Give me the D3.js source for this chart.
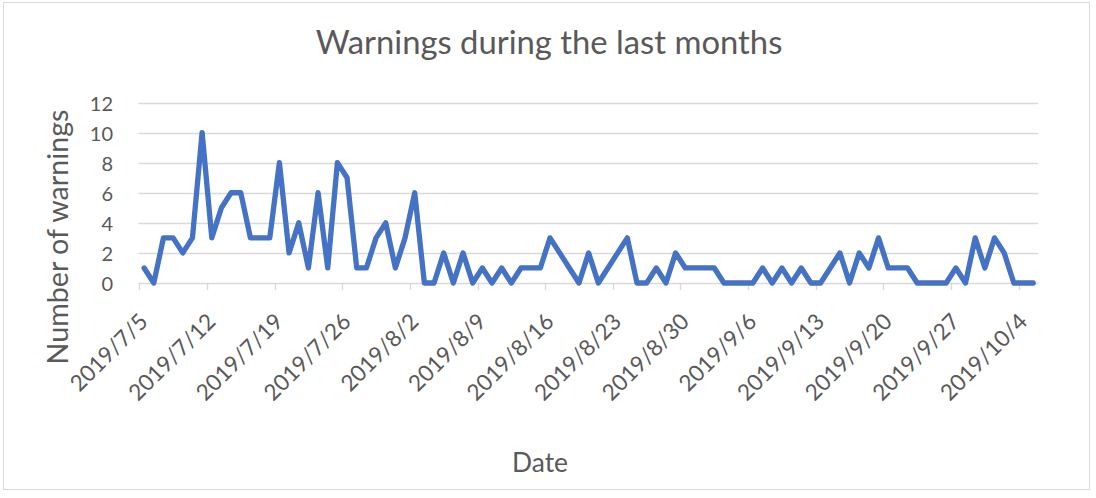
<!DOCTYPE html>
<html>
<head>
<meta charset="utf-8">
<script src="https://cdn.jsdelivr.net/npm/d3@7"></script>
<style>
  html, body { margin: 0; padding: 0; background: #fff; }
  svg { display: block; font-family: Lato, "Open Sans", sans-serif; }
</style>
</head>
<body>
<svg id="chart" width="1096" height="498"></svg>
<script>
// ---- data ----
const startDate = "2019-07-05";
const endDate = "2019-10-06"; // exclusive end of the date axis
const warnings = [
  1, 0, 3, 3, 2, 3, 10, 3, 5, 6, 6, 3, 3, 3, 8, 2, 4, 1, 6, 1,
  8, 7, 1, 1, 3, 4, 1, 3, 6, 0, 0, 2, 0, 2, 0, 1, 0, 1, 0, 1,
  1, 1, 3, 2, 1, 0, 2, 0, 1, 2, 3, 0, 0, 1, 0, 2, 1, 1, 1, 1,
  0, 0, 0, 0, 1, 0, 1, 0, 1, 0, 0, 1, 2, 0, 2, 1, 3, 1, 1, 1,
  0, 0, 0, 0, 1, 0, 3, 1, 3, 2, 0, 0, 0
];
const tickLabels = ["2019/7/5", "2019/7/12", "2019/7/19", "2019/7/26", "2019/8/2", "2019/8/9",
  "2019/8/16", "2019/8/23", "2019/8/30", "2019/9/6", "2019/9/13", "2019/9/20", "2019/9/27", "2019/10/4"];
const yTicks = [0, 2, 4, 6, 8, 10, 12];
const titleText = "Warnings during the last months";
const xTitle = "Date";
const yTitle = "Number of warnings";

// ---- setup ----
const parse = d3.timeParse("%Y-%m-%d");
const parseLabel = d3.timeParse("%Y/%m/%d");
const dates = d3.timeDay.range(parse(startDate), parse(endDate)).slice(0, warnings.length);
const data = dates.map((d, i) => ({ date: d, value: warnings[i] }));

const svg = d3.select("#chart");
const textColor = "#595959";
const gridColor = "#d9d9d9";

// chart border
svg.append("rect")
  .attr("x", 3.5).attr("y", 2.5).attr("width", 1086).attr("height", 487)
  .attr("fill", "#fff").attr("stroke", "#d9d9d9").attr("stroke-width", 1);

const x = d3.scaleTime()
  .domain([parse(startDate), parse(endDate)])
  .range([139.3, 1038]);
const y = d3.scaleLinear().domain([0, 12]).range([283, 102.5]);

// gridlines
svg.append("g").selectAll("line").data(yTicks).join("line")
  .attr("x1", 138.5).attr("x2", 1038)
  .attr("y1", d => Math.round(y(d)) + 0.5).attr("y2", d => Math.round(y(d)) + 0.5)
  .attr("stroke", gridColor).attr("stroke-width", 1.4);

// y tick labels
svg.append("g").selectAll("text").data(yTicks).join("text")
  .attr("x", 113).attr("y", d => y(d))
  .attr("text-anchor", "end").attr("dominant-baseline", "central")
  .attr("fill", textColor).attr("font-size", 20)
  .text(d => d);

// x axis ticks and labels
const tickDates = tickLabels.map(s => parseLabel(s));
svg.append("g").selectAll("line").data(tickDates).join("line")
  .attr("x1", d => Math.round(x(d)) + 0.5).attr("x2", d => Math.round(x(d)) + 0.5)
  .attr("y1", 283).attr("y2", 290)
  .attr("stroke", gridColor).attr("stroke-width", 1.4);

svg.append("g").selectAll("text").data(tickDates).join("text")
  .attr("transform", d => `translate(${x(d) + 10},${323}) rotate(-45)`)
  .attr("text-anchor", "end")
  .attr("fill", textColor).attr("font-size", 22.5)
  .text((d, i) => tickLabels[i]);

// line
const line = d3.line()
  .x(d => x(d3.timeHour.offset(d.date, 12)))
  .y(d => y(d.value));
svg.append("path").datum(data)
  .attr("d", line)
  .attr("fill", "none").attr("stroke", "#4472C4")
  .attr("stroke-width", 5.3).attr("stroke-linejoin", "round").attr("stroke-linecap", "round");

// titles (sized to the reference widths)
function fit(sel, target) {
  sel.attr("font-size", 100);
  const w = sel.node().getComputedTextLength();
  sel.attr("font-size", 100 * target / w);
}
const t = svg.append("text").attr("x", 549).attr("y", 54)
  .attr("text-anchor", "middle").attr("fill", textColor).text(titleText);
fit(t, 467);

const xt = svg.append("text").attr("x", 540).attr("y", 472)
  .attr("text-anchor", "middle").attr("fill", textColor).text(xTitle);
fit(xt, 56);

const yt = svg.append("text").attr("transform", "translate(68,237) rotate(-90)")
  .attr("text-anchor", "middle").attr("fill", textColor).text(yTitle);
fit(yt, 255);
</script>
</body>
</html>
